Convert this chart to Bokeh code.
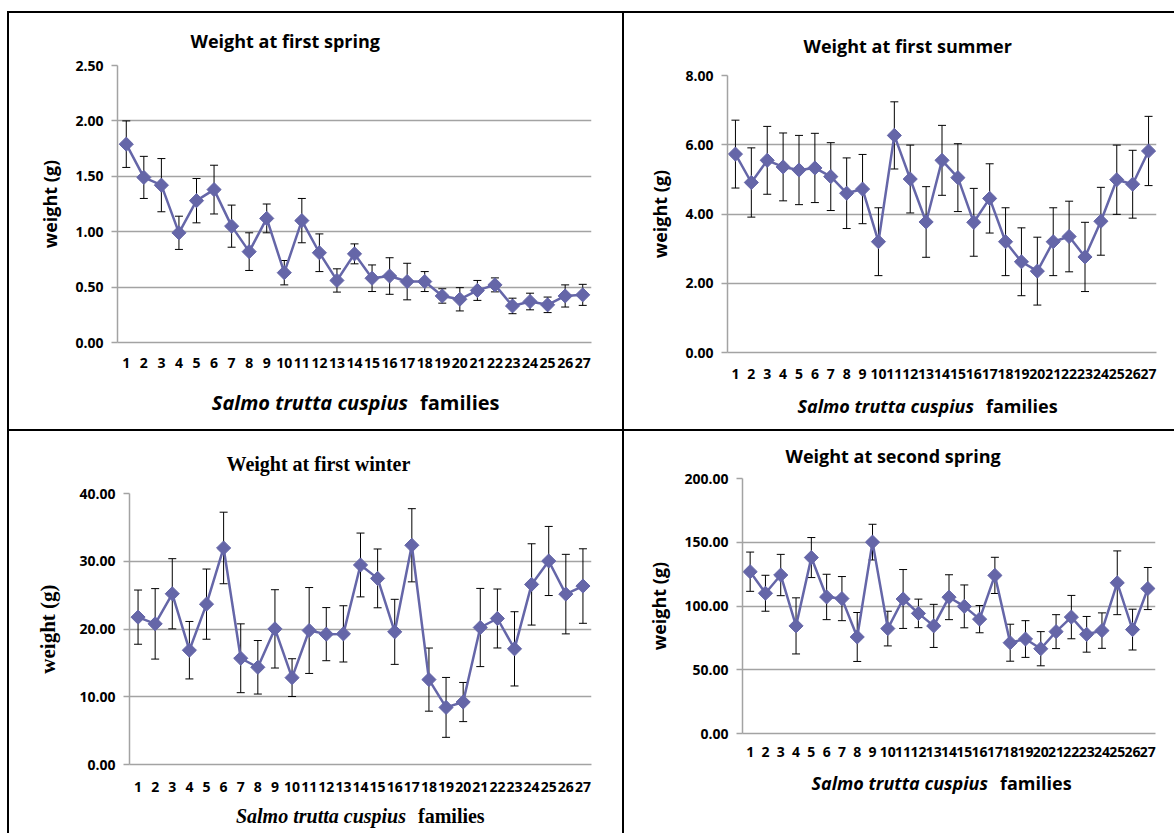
from bokeh.plotting import figure
from bokeh.models import (Whisker, TeeHead, ColumnDataSource, FixedTicker,
                          Range1d, NumeralTickFormatter, Div)
from bokeh.layouts import row, column
from bokeh.embed import file_html
from bokeh.resources import INLINE

families = [str(i) for i in range(1, 28)]

spring1_mean = [1.79, 1.49, 1.42, 0.99, 1.28, 1.38, 1.05, 0.82, 1.12, 0.63, 1.10, 0.81, 0.56, 0.80,
                0.58, 0.60, 0.55, 0.55, 0.42, 0.39, 0.47, 0.52, 0.33, 0.37, 0.34, 0.42, 0.43]
spring1_err = [0.21, 0.19, 0.24, 0.15, 0.20, 0.22, 0.19, 0.17, 0.13, 0.11, 0.20, 0.17, 0.105, 0.09,
               0.12, 0.165, 0.165, 0.09, 0.065, 0.105, 0.09, 0.063, 0.07, 0.075, 0.07, 0.10, 0.095]

summer1_mean = [5.73, 4.91, 5.55, 5.36, 5.27, 5.33, 5.08, 4.60, 4.72, 3.20, 6.27, 5.01, 3.77, 5.55,
                5.05, 3.76, 4.45, 3.20, 2.62, 2.35, 3.20, 3.35, 2.76, 3.79, 4.99, 4.86, 5.82]
summer1_err = [0.98, 1.00, 0.98, 0.98, 1.00, 1.00, 0.98, 1.02, 1.00, 0.98, 0.97, 0.98, 1.02, 1.01,
               0.98, 0.98, 1.00, 0.98, 0.98, 0.98, 0.98, 1.02, 1.00, 0.98, 1.00, 0.98, 1.00]

winter1_mean = [21.75, 20.76, 25.20, 16.87, 23.67, 31.96, 15.68, 14.35, 20.02, 12.82, 19.78, 19.24,
                19.28, 29.45, 27.47, 19.58, 32.36, 12.53, 8.43, 9.22, 20.22, 21.55, 17.07, 26.58,
                30.04, 25.15, 26.34]
winter1_err = [4.00, 5.20, 5.18, 4.24, 5.18, 5.28, 5.08, 3.95, 5.78, 2.79, 6.34, 3.92, 4.15, 4.71,
               4.34, 4.80, 5.40, 4.66, 4.42, 2.89, 5.77, 4.35, 5.48, 6.00, 5.10, 5.87, 5.50]

spring2_mean = [126.9, 110.0, 124.3, 84.4, 138.0, 107.1, 105.8, 75.7, 150.1, 82.3, 105.5, 94.2,
                84.4, 106.9, 99.7, 89.7, 124.0, 71.2, 74.1, 66.5, 79.9, 91.3, 77.8, 80.7, 118.2,
                81.5, 113.7]
spring2_err = [15.4, 14.1, 16.2, 22.0, 15.7, 17.8, 17.3, 19.2, 14.0, 13.6, 23.1, 11.2, 16.9, 17.6,
               16.8, 10.7, 14.2, 14.5, 14.4, 13.4, 13.3, 17.0, 14.0, 13.9, 25.0, 16.0, 16.5]

titles = ["Weight at first spring", "Weight at first summer",
          "Weight at first winter", "Weight at second spring"]
y_tops = [2.5, 8.0, 40.0, 200.0]
y_steps = [0.5, 2.0, 10.0, 50.0]
y_title = "weight (g)"
x_title_italic = "Salmo trutta cuspius"
x_title_plain = "families"

SERIES = "#6566A8"
GRID = "#A3A3A3"
SANS = "Open Sans"
SERIF = "Liberation Serif"
B = "2px solid black"


def panel(title, mean, err, ytop, ystep, width, height, left, right, top, bottom,
          title_offset, title_standoff, ylab_standoff, xtick_standoff, serif, styles, margin):
    xs = list(range(1, len(families) + 1))
    src = ColumnDataSource(dict(
        x=xs, mean=mean,
        upper=[m + e for m, e in zip(mean, err)],
        lower=[m - e for m, e in zip(mean, err)],
    ))
    p = figure(width=width, height=height, output_backend="svg", toolbar_location=None,
               x_range=Range1d(0.5, len(families) + 0.5), y_range=Range1d(0, ytop),
               min_border_left=left, min_border_right=right,
               min_border_top=top, min_border_bottom=bottom,
               styles=styles, margin=margin)
    tfont = SERIF if serif else SANS
    p.title.text = title
    p.title.align = "left"
    p.title.offset = title_offset
    p.title.standoff = title_standoff
    p.title.text_font = tfont
    p.title.text_font_style = "bold"
    p.title.text_font_size = "20px" if serif else "18px"
    p.title.text_color = "black"

    p.outline_line_color = None
    p.background_fill_color = "white"
    p.border_fill_color = "white"
    p.xgrid.grid_line_color = None
    p.ygrid.grid_line_color = GRID
    p.ygrid.grid_line_width = 1.5

    nticks = int(round(ytop / ystep))
    p.yaxis.ticker = FixedTicker(ticks=[i * ystep for i in range(nticks + 1)])
    p.yaxis.formatter = NumeralTickFormatter(format="0.00")
    p.yaxis.axis_line_color = GRID
    p.yaxis.axis_line_width = 1.5
    p.yaxis.major_tick_line_color = GRID
    p.yaxis.major_tick_line_width = 1.5
    p.yaxis.major_tick_out = 6
    p.yaxis.major_tick_in = 0
    p.yaxis.minor_tick_line_color = None
    p.yaxis.major_label_standoff = 8
    p.yaxis.major_label_text_font = SANS
    p.yaxis.major_label_text_font_style = "bold"
    p.yaxis.major_label_text_font_size = "14px"
    p.yaxis.major_label_text_color = "black"
    p.yaxis.axis_label = y_title
    p.yaxis.axis_label_standoff = ylab_standoff
    p.yaxis.axis_label_text_font = tfont
    p.yaxis.axis_label_text_font_style = "bold"
    p.yaxis.axis_label_text_font_size = "21px" if serif else "18px"
    p.yaxis.axis_label_text_color = "black"

    p.xaxis.ticker = FixedTicker(ticks=xs)
    p.xaxis.major_label_overrides = {x: f for x, f in zip(xs, families)}
    p.xaxis.axis_line_color = GRID
    p.xaxis.axis_line_width = 1.5
    p.xaxis.major_tick_line_color = None
    p.xaxis.minor_tick_line_color = None
    p.xaxis.major_tick_out = 0
    p.xaxis.major_tick_in = 0
    p.xaxis.major_label_standoff = xtick_standoff
    p.xaxis.major_label_text_font = SANS
    p.xaxis.major_label_text_font_style = "bold"
    p.xaxis.major_label_text_font_size = "14px"
    p.xaxis.major_label_text_color = "black"

    p.line("x", "mean", source=src, line_color=SERIES, line_width=2.5)
    w = Whisker(source=src, base="x", upper="upper", lower="lower",
                line_color="black", line_width=1,
                upper_head=TeeHead(size=8, line_color="black", line_width=1),
                lower_head=TeeHead(size=8, line_color="black", line_width=1))
    p.add_layout(w)
    p.scatter("x", "mean", source=src, marker="square", angle=0.785398, size=10,
              fill_color=SERIES, line_color=SERIES)
    return p


def xtitle(width, height, content_w, gap, top, serif, fs, styles, margin):
    font = "'Liberation Serif'" if serif else "'Open Sans'"
    html = (
        f'<div style="position:relative;width:{content_w}px;height:{height}px;margin:0;padding:0;">'
        f'<span style="position:absolute;right:{content_w - gap + 6}px;top:{top}px;'
        f'font-family:{font};font-style:italic;font-weight:bold;font-size:{fs}px;'
        f'line-height:22px;white-space:nowrap;color:black;">{x_title_italic}</span>'
        f'<span style="position:absolute;left:{gap + 6}px;top:{top}px;'
        f'font-family:{font};font-style:normal;font-weight:bold;font-size:{fs}px;'
        f'line-height:22px;white-space:nowrap;color:black;">{x_title_plain}</span>'
        f'</div>'
    )
    return Div(text=html, width=width, height=height, styles=styles, margin=margin)


p1 = panel(titles[0], spring1_mean, spring1_err, y_tops[0], y_steps[0],
           617, 374, 108, 35, 52, 45, 73, 26, 10, 15, False,
           {"border-left": B, "border-top": B, "border-right": B}, (11, 0, 0, 7))
d1 = xtitle(617, 44, 613, 405, 7, False, 20,
            {"border-left": B, "border-right": B}, (0, 0, 0, 7))
p2 = panel(titles[1], summer1_mean, summer1_err, y_tops[1], y_steps[1],
           550, 374, 103, 18, 62, 35, 76, 36, 10, 16, False,
           {"border-top": B}, (11, 0, 0, 0))
d2 = xtitle(550, 44, 550, 356, 10, False, 18, {}, (0, 0, 0, 0))
p3 = panel(titles[2], winter1_mean, winter1_err, y_tops[2], y_steps[2],
           617, 368, 120, 35, 61, 35, 97, 38, 16, 17, True,
           {"border-left": B, "border-top": B, "border-right": B}, (0, 0, 0, 7))
d3 = xtitle(617, 36, 613, 403, 8, True, 20,
            {"border-left": B, "border-right": B}, (0, 0, 0, 7))
p4 = panel(titles[3], spring2_mean, spring2_err, y_tops[3], y_steps[3],
           550, 339, 118, 19, 47, 37, 43, 21, 10, 13, False,
           {"border-top": B}, (0, 0, 0, 0))
d4 = xtitle(550, 65, 550, 370, 4, False, 18, {}, (0, 0, 0, 0))

layout = column(row(column(p1, d1), column(p2, d2)),
                row(column(p3, d3), column(p4, d4)))
open("out.html", "w").write(file_html(layout, INLINE))
